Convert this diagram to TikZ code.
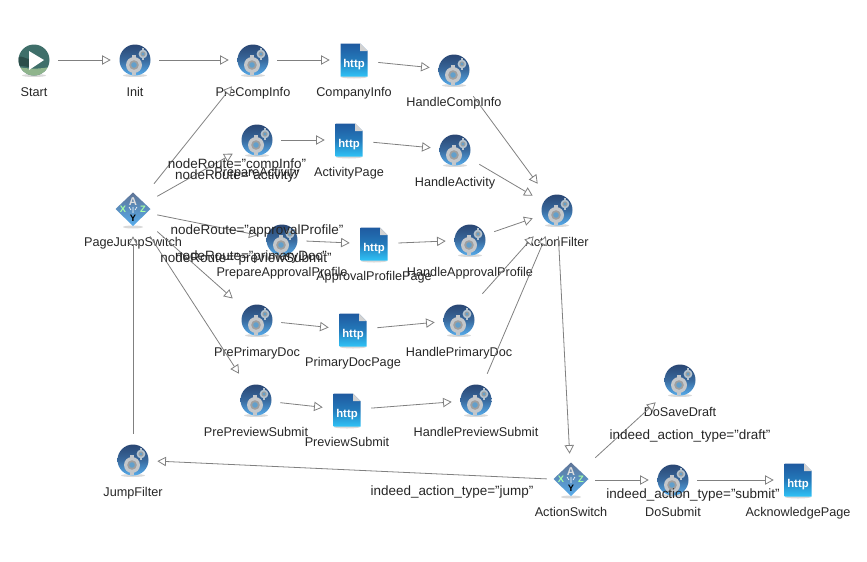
\documentclass[tikz,border=0pt]{standalone}
\usepackage{fontspec}
\setmainfont{Liberation Sans}
\usetikzlibrary{arrows.meta,calc}

\definecolor{edgegray}{HTML}{808080}
\definecolor{geardark}{HTML}{2A4673}
\definecolor{gearlight}{HTML}{56ACEC}
\definecolor{teeth}{HTML}{C4C7CA}
\definecolor{httptop}{HTML}{1F5AA0}
\definecolor{httpbottom}{HTML}{2FC3F7}
\definecolor{starttop}{HTML}{3F6F6A}
\definecolor{startbottom}{HTML}{8FB48C}

\newcommand{\shadowicon}[1]{\fill[black,opacity=.15] (0,#1) ellipse (12 and 1.5);}
\newcommand{\cogwheel}[3]{
  \foreach \a in {0,45,...,315}
    \fill[#3,rotate around={\a:(#1)}] ($(#1)+(-.2*#2,-1.3*#2)$) rectangle ($(#1)+(.2*#2,1.3*#2)$);
  \fill[#3] (#1) circle (#2);
  \fill[gray!75] (#1) circle (.6*#2);
  \fill[gearlight!70!gray] (#1) circle (.35*#2);
}

\tikzset{
  iconbox/.style={minimum width=36pt,minimum height=39pt,inner sep=0pt,
    label={[labeltext]below:#1}},
  labeltext/.style={font=\fontsize{9.5pt}{11pt}\selectfont,inner sep=0pt,
    text height=8pt,text depth=2pt,yshift=.5pt,text=black!85},
  routetext/.style={font=\fontsize{10.1pt}{11pt}\selectfont,inner sep=0pt,text=black!85,yshift=-1.5pt},
  gearbox/.style={iconbox={#1},path picture={
    \begin{scope}[shift={(path picture bounding box.center)}]
      \shadowicon{15.5}
      \shade[top color=geardark,bottom color=gearlight,middle color=geardark!65!gearlight] (0,0) circle (15.5);
      \cogwheel{8,-6}{4.4}{teeth!85!gearlight}
      \cogwheel{-1,5}{8}{teeth}
    \end{scope}}},
  startbox/.style={iconbox={#1},path picture={
    \begin{scope}[shift={(path picture bounding box.center)}]
      \shadowicon{15.5}
      \fill[starttop] (0,0) circle (15.5);
      \begin{scope}
        \clip (0,0) circle (15.5);
        \fill[startbottom] (-16,7) to[out=-10,in=190] (16,7) -- (16,16) -- (-16,16) -- cycle;
        \fill[starttop!70!black] (-16,-3) to[out=20,in=180] (-4,-1) -- (-4,7) to[out=180,in=10] (-16,6) -- cycle;
      \end{scope}
      \fill[white] (-5,-9) -- (10,0) -- (-5,10) -- cycle;
    \end{scope}}},
  switchbox/.style={iconbox={#1},path picture={
    \begin{scope}[shift={(path picture bounding box.center)}]
      \fill[black,opacity=.15] (0,17) ellipse (10 and 1.5);
      \shade[top color=geardark!75!white,bottom color=gearlight] (0,-17.5) -- (17.5,-1) -- (0,16) -- (-17.5,-1) -- cycle;
      \draw[white,line width=.5pt] (0,-3) -- (0,3) (-4,-3) -- (-2,0) (4,-3) -- (2,0);
      \node[text=gray!25,inner sep=0pt,font=\bfseries\fontsize{8.5pt}{8.5pt}\selectfont] (letterA) at (0,-8.5) {A};
      \node[text=green!35!white,inner sep=0pt,font=\bfseries\fontsize{7pt}{7pt}\selectfont] (letterX) at (-10,-.5) {X};
      \node[text=green!35!white,inner sep=0pt,font=\bfseries\fontsize{7pt}{7pt}\selectfont] (letterZ) at (10,-.5) {Z};
      \node[text=black,inner sep=0pt,font=\bfseries\fontsize{7pt}{7pt}\selectfont] (letterY) at (0,8) {Y};
    \end{scope}}},
  httpbox/.style={iconbox={#1},path picture={
    \begin{scope}[shift={(path picture bounding box.center)}]
      \fill[black,opacity=.15] (0,17) ellipse (13 and 1.5);
      \shade[top color=httptop,bottom color=httpbottom,middle color=httptop!70!httpbottom]
        (-13.5,-16.5) -- (6,-16.5) -- (13.5,-9) -- (13.5,16.5) -- (-13.5,16.5) -- cycle;
      \fill[gray!35] (6,-16.5) -- (13.5,-9) -- (6,-9) -- cycle;
      \node[text=white,inner sep=0pt,font=\bfseries\fontsize{8.5pt}{8.5pt}\selectfont] (httpword) at (0,5) {http};
    \end{scope}}},
  flow/.style={draw=edgegray,line width=.6pt,
    -{Triangle[open,fill=white,length=6.5pt,width=7pt]}},
}

\begin{document}
\begin{tikzpicture}[x=.75pt,y=-.75pt]
  \useasboundingbox (0,0) rectangle (867,561);
  \path
  node[startbox=Start] (start) at (34,60) {}
  node[gearbox=Init] (init) at (135,60) {}
  node[gearbox=PreCompInfo] (preCompInfo) at (253,60) {}
  node[httpbox=CompanyInfo] (companyInfo) at (354,60) {}
  node[gearbox=HandleCompInfo] (handleCompInfo) at (454,70) {}

  node[gearbox=PrepareActivity] (prepareActivity) at (257,140) {}
  node[httpbox=ActivityPage] (activityPage) at (349,140) {}
  node[gearbox=HandleActivity] (handleActivity) at (455,150) {}

  node[switchbox=PageJumpSwitch] (pageJumpSwitch) at (133,210) {}
  node[gearbox=ActionFilter] (actionFilter) at (557,210) {}

  node[gearbox=PrepareApprovalProfile] (prepareApprovalProfile) at (282,240) {}
  node[httpbox=ApprovalProfilePage] (approvalProfilePage) at (374,244) {}
  node[gearbox=HandleApprovalProfile] (handleApprovalProfile) at (470,240) {}

  node[gearbox=PrePrimaryDoc] (prePrimaryDoc) at (257,320) {}
  node[httpbox=PrimaryDocPage] (primaryDocPage) at (353,330) {}
  node[gearbox=HandlePrimaryDoc] (handlePrimaryDoc) at (459,320) {}

  node[gearbox=PrePreviewSubmit] (prePreviewSubmit) at (256,400) {}
  node[httpbox=PreviewSubmit] (previewSubmit) at (347,410) {}
  node[gearbox=HandlePreviewSubmit] (handlePreviewSubmit) at (476,400) {}

  node[gearbox=JumpFilter] (jumpFilter) at (133,460) {}
  node[switchbox=ActionSwitch] (actionSwitch) at (571,480) {}
  node[gearbox=DoSubmit] (doSubmit) at (673,480) {}
  node[httpbox=AcknowledgePage] (acknowledgePage) at (798,480) {}
  node[gearbox=DoSaveDraft] (doSaveDraft) at (680,380) {}
  ;
  \path[flow]
  (start) edge (init)
  (init) edge (preCompInfo)
  (preCompInfo) edge (companyInfo)
  (companyInfo) edge (handleCompInfo)
  (handleCompInfo) edge (actionFilter)

  (prepareActivity) edge (activityPage)
  (activityPage) edge (handleActivity)
  (handleActivity) edge (actionFilter)

  (prepareApprovalProfile) edge (approvalProfilePage)
  (approvalProfilePage) edge (handleApprovalProfile)
  (handleApprovalProfile) edge (actionFilter)

  (prePrimaryDoc) edge (primaryDocPage)
  (primaryDocPage) edge (handlePrimaryDoc)
  (handlePrimaryDoc) edge (actionFilter)

  (prePreviewSubmit) edge (previewSubmit)
  (previewSubmit) edge (handlePreviewSubmit)
  (handlePreviewSubmit) edge (actionFilter)

  (pageJumpSwitch) edge (preCompInfo)
  (pageJumpSwitch) edge (prepareActivity)
  (pageJumpSwitch) edge (prepareApprovalProfile)
  (pageJumpSwitch) edge (prePrimaryDoc)
  (pageJumpSwitch) edge (prePreviewSubmit)

  (actionFilter) edge (actionSwitch)
  (actionSwitch) edge (jumpFilter)
  (jumpFilter) edge (pageJumpSwitch)
  (actionSwitch) edge (doSubmit)
  (actionSwitch) edge (doSaveDraft)
  (doSubmit) edge (acknowledgePage)
  ;
  \node[routetext] (routeCompInfo) at (237,163) {nodeRoute="compInfo"};
  \node[routetext] (routeActivity) at (237,174) {nodeRoute="activity"};
  \node[routetext] (routeApproval) at (257,229) {nodeRoute="approvalProfile"};
  \node[routetext] (routePrimary) at (251,255) {nodeRoute="primaryDoc"};
  \node[routetext] (routePreview) at (246,257) {nodeRoute="previewSubmit"};
  \node[routetext] (routeJump) at (452,490) {indeed\_action\_type="jump"};
  \node[routetext] (routeDraft) at (690,434) {indeed\_action\_type="draft"};
  \node[routetext] (routeSubmit) at (693,493) {indeed\_action\_type="submit"};
\end{tikzpicture}
\end{document}
